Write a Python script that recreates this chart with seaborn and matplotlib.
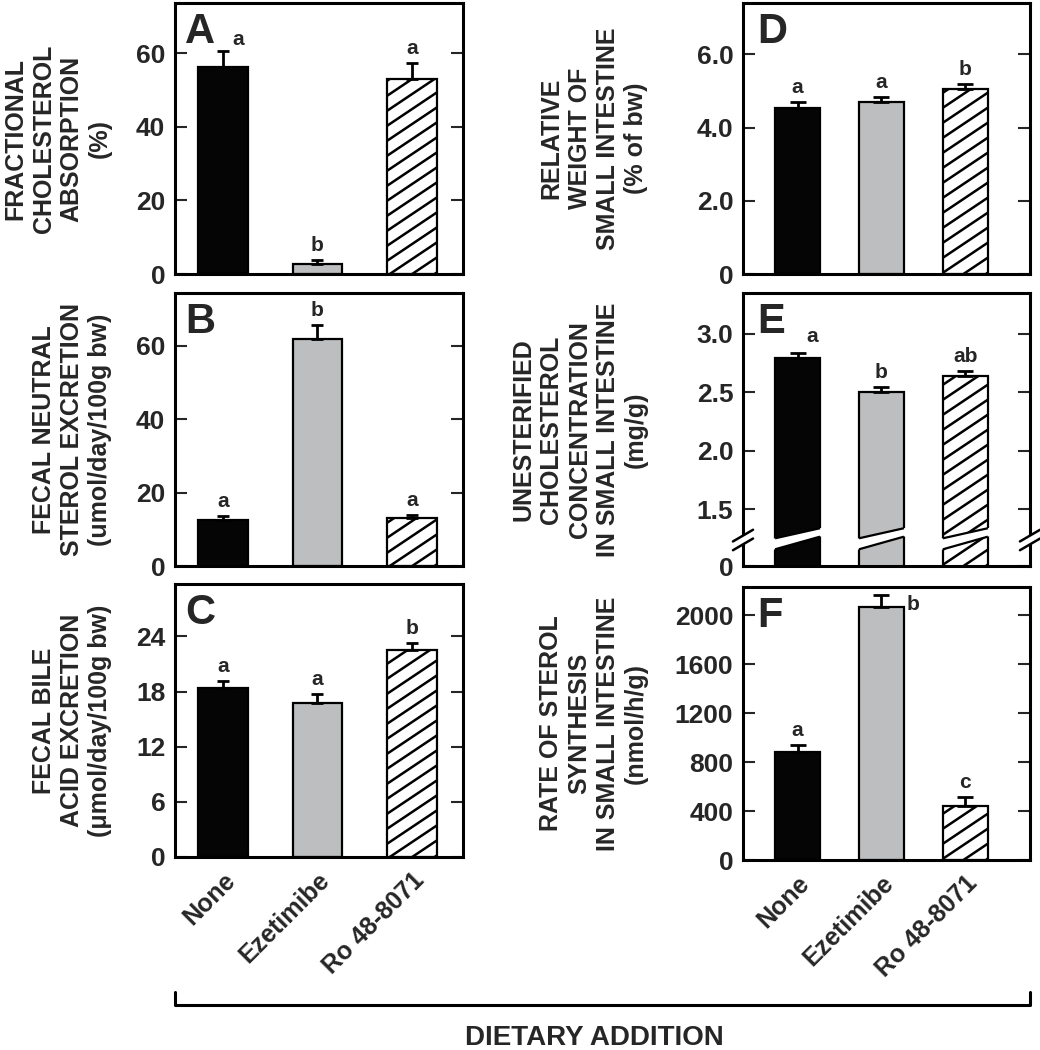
import numpy as np
import pandas as pd
import seaborn as sns
import matplotlib
matplotlib.use("Agg")
import matplotlib.pyplot as plt
from matplotlib.patches import Polygon
from matplotlib.lines import Line2D
from matplotlib.collections import LineCollection
from matplotlib.transforms import (blended_transform_factory, ScaledTranslation,
                                   IdentityTransform, Bbox)

# ---- data ----
treatments = ["None", "Ezetimibe", "Ro 48-8071"]

absorption = [56.3, 2.6, 53.0]
absorption_se = [4.4, 1.2, 4.5]
absorption_sig = ["a", "b", "a"]

neutral_sterol = [12.5, 61.8, 13.0]
neutral_sterol_se = [1.1, 3.9, 0.9]
neutral_sterol_sig = ["a", "b", "a"]

bile_acid = [18.4, 16.7, 22.5]
bile_acid_se = [0.8, 1.0, 0.8]
bile_acid_sig = ["a", "a", "b"]

intestine_weight = [4.52, 4.70, 5.05]
intestine_weight_se = [0.18, 0.13, 0.15]
intestine_weight_sig = ["a", "a", "b"]

unesterified_chol = [2.79, 2.505, 2.64]
unesterified_chol_se = [0.05, 0.045, 0.045]
unesterified_chol_sig = ["a", "b", "ab"]

synthesis_rate = [882, 2068, 441]
synthesis_rate_se = [57, 95, 71]
synthesis_rate_sig = ["a", "b", "c"]

bar_colors = ["#050505", "#bdbec0", "white"]
bar_hatched = [False, False, True]

# ---- style ----
sns.set_theme(style="white")
plt.rcParams["font.family"] = ["Liberation Sans", "DejaVu Sans"]
plt.rcParams["font.weight"] = "bold"

fig = plt.figure(figsize=(10.4, 10.5), dpi=100)
W, H = 1040, 1050


def make_ax(left, top, width, bottom):
    return fig.add_axes([left / W, 1 - bottom / H, width / W, (bottom - top) / H])


def add_hatch(ax, patch, spacing=15, slope=0.67, lw=1.8):
    # diagonal hatch lines in pixel space, clipped to the visible part of the bar
    bb = Bbox.intersection(patch.get_window_extent(), ax.bbox)
    segs = []
    for c in np.arange(bb.y0 - slope * bb.width - spacing, bb.y1 + spacing, spacing):
        segs.append([(bb.x0 - 2, c), (bb.x1 + 2, c + slope * (bb.width + 4))])
    lc = LineCollection(segs, colors="black", linewidths=lw,
                        transform=IdentityTransform(), zorder=1.5)
    ax.add_collection(lc, autolim=False)
    lc.set_clip_box(bb)


def draw_panel(ax, values, errs, sig, ylim, yticks, yticklabels, ylabel, letter,
               left_col, show_x, capsize, sig_offsets=None):
    df = pd.DataFrame({"treatment": treatments, "value": values})
    width = 0.52 if left_col else 0.535
    sns.barplot(data=df, x="treatment", y="value", hue="treatment",
                palette=dict(zip(treatments, bar_colors)), saturation=1,
                width=width, errorbar=None, edgecolor="black", linewidth=1.6,
                legend=False, ax=ax)
    ax.set_xlim((-0.508, 2.54) if left_col else (-0.65, 2.77))
    ax.set_ylim(*ylim)
    for patch, hatched in zip(ax.patches, bar_hatched):
        if hatched:
            add_hatch(ax, patch)
    x = np.arange(len(treatments))
    ax.errorbar(x, values, yerr=[np.zeros(len(errs)), errs], fmt="none",
                ecolor="black", elinewidth=2, capsize=capsize, capthick=2,
                zorder=3)
    for i, s in enumerate(sig):
        dx, dy, va = (0, 3.5, "bottom")
        if sig_offsets and i in sig_offsets:
            dx, dy, va = sig_offsets[i]
        base = values[i] + errs[i] if va == "bottom" else values[i]
        ax.annotate(s, xy=(i, base), xytext=(dx, dy), textcoords="offset points",
                    ha="center", va=va, fontsize=15, fontweight="bold")

    ax.set_yticks(yticks)
    ax.set_yticklabels(yticklabels)
    ax.tick_params(axis="y", which="both", direction="in", length=8.5, width=1.5,
                   left=True, right=True, labelsize=19, pad=7)
    ax.tick_params(axis="x", length=0, labelsize=18, pad=14)
    for sp in ax.spines.values():
        sp.set_linewidth(2.2)
        sp.set_color("black")
        sp.set_visible(True)
    ax.set_xlabel("")
    if show_x:
        ax.set_xticks(x)
        ax.set_xticklabels(treatments, rotation=45, ha="right", va="center",
                           rotation_mode="anchor", fontweight="bold")
        shift = ScaledTranslation(6 / 72, 0, fig.dpi_scale_trans)
        for lab in ax.get_xticklabels():
            lab.set_transform(lab.get_transform() + shift)
    else:
        ax.set_xticklabels([])
    ax.set_ylabel(ylabel, fontsize=18, fontweight="bold", linespacing=1.22)
    ax.yaxis.set_label_coords(-0.219 if left_col else -0.331, 0.5)
    ax.text(0.035 if left_col else 0.05, 0.852, letter, transform=ax.transAxes,
            ha="left", va="baseline", fontsize=30, fontweight="bold")


# ---- left column ----
axA = make_ax(175, 3, 288, 274)
draw_panel(axA, absorption, absorption_se, absorption_sig, (0, 73.7),
           [0, 20, 40, 60], ["0", "20", "40", "60"],
           "FRACTIONAL\nCHOLESTEROL\nABSORPTION\n(%)", "A", True, False, 4.5,
           sig_offsets={0: (11, 1, "bottom")})

axB = make_ax(175, 293, 288, 566)
draw_panel(axB, neutral_sterol, neutral_sterol_se, neutral_sterol_sig, (0, 74.3),
           [0, 20, 40, 60], ["0", "20", "40", "60"],
           "FECAL NEUTRAL\nSTEROL EXCRETION\n(umol/day/100g bw)", "B", True, False, 4.5)

axC = make_ax(175, 584, 288, 857)
draw_panel(axC, bile_acid, bile_acid_se, bile_acid_sig, (0, 29.7),
           [0, 6, 12, 18, 24], ["0", "6", "12", "18", "24"],
           "FECAL BILE\nACID EXCRETION\n(\u03bcmol/day/100g bw)", "C", True, True, 4.5)

# ---- right column ----
axD = make_ax(743, 3, 287, 274)
draw_panel(axD, intestine_weight, intestine_weight_se, intestine_weight_sig, (0, 7.4),
           [0, 2, 4, 6], ["0", "2.0", "4.0", "6.0"],
           "RELATIVE\nWEIGHT OF\nSMALL INTESTINE\n(% of bw)", "D", False, False, 6)

axE = make_ax(743, 293, 287, 566)
e_bottom = 1.015
draw_panel(axE, unesterified_chol, unesterified_chol_se, unesterified_chol_sig,
           (e_bottom, 3.35), [e_bottom, 1.5, 2.0, 2.5, 3.0],
           ["0", "1.5", "2.0", "2.5", "3.0"],
           "UNESTERIFIED\nCHOLESTEROL\nCONCENTRATION\nIN SMALL INTESTINE\n(mg/g)",
           "E", False, False, 6, sig_offsets={0: (10.5, 4.5, "bottom")})

# axis break on panel E
w = 0.535
for i in range(len(treatments)):
    xl, xr = i - w / 2, i + w / 2
    lo = (1.158, 1.266)
    up = (1.252, 1.338)
    pad = 0.03
    slope_lo = (lo[1] - lo[0]) / w
    slope_up = (up[1] - up[0]) / w
    gap = Polygon([(xl - pad, lo[0] - slope_lo * pad), (xr + pad, lo[1] + slope_lo * pad),
                   (xr + pad, up[1] + slope_up * pad), (xl - pad, up[0] - slope_up * pad)],
                  closed=True, facecolor="white", edgecolor="none", zorder=4)
    axE.add_patch(gap)
    axE.plot([xl, xr], lo, color="black", lw=1.6, zorder=5, solid_capstyle="butt")
    axE.plot([xl, xr], up, color="black", lw=1.6, zorder=5, solid_capstyle="butt")

tr = blended_transform_factory(axE.transAxes, axE.transData)
for xs in (0, 1):
    gap = Polygon([(xs - 0.015, 1.19), (xs + 0.015, 1.215),
                   (xs + 0.015, 1.29), (xs - 0.015, 1.265)], closed=True,
                  facecolor="white", edgecolor="none", transform=tr,
                  clip_on=False, zorder=6)
    axE.add_patch(gap)
    for c in (1.2, 1.275):
        axE.add_line(Line2D([xs - 0.035, xs + 0.035], [c - 0.05, c + 0.05],
                            color="black", lw=1.8, transform=tr, clip_on=False,
                            zorder=7))

axF = make_ax(743, 587, 287, 860)
draw_panel(axF, synthesis_rate, synthesis_rate_se, synthesis_rate_sig, (0, 2230),
           [0, 400, 800, 1200, 1600, 2000],
           ["0", "400", "800", "1200", "1600", "2000"],
           "RATE OF STEROL\nSYNTHESIS\nIN SMALL INTESTINE\n(nmol/h/g)", "F", False, True, 6,
           sig_offsets={1: (23, 2, "center")})

# ---- common x-axis bracket ----
y_line = 1 - 1005 / H
y_tip = 1 - 992 / H
fig.add_artist(Line2D([175 / W, 175 / W, 1030 / W, 1030 / W],
                      [y_tip, y_line, y_line, y_tip], color="black", lw=2.2,
                      transform=fig.transFigure))
fig.text(594 / W, 1 - 1038 / H, "DIETARY ADDITION", ha="center", va="center",
         fontsize=20, fontweight="bold")

fig.savefig("out.png", dpi=100)
